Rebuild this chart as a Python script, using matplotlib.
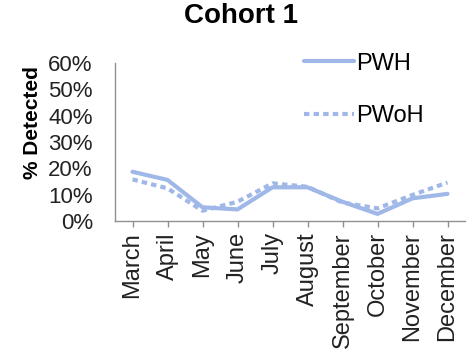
import numpy as np
import matplotlib.pyplot as plt
from matplotlib.ticker import PercentFormatter

plt.rcParams['font.family'] = ['Liberation Sans', 'DejaVu Sans']

# Monthly detection rates (%)
months = ['March', 'April', 'May', 'June', 'July', 'August',
          'September', 'October', 'November', 'December']
pwh = [18.7, 15.6, 5.2, 4.4, 12.8, 12.8, 7.3, 2.7, 8.6, 10.3]
pwoh = [15.8, 12.4, 3.9, 7.3, 14.3, 13.0, 7.0, 4.8, 9.9, 14.6]

color = '#a0b8e8'

fig = plt.figure(figsize=(4.67, 3.57), dpi=100)
ax = fig.add_axes([115/467, 1 - 221/357, 350/467, 158/357])

x = np.arange(len(months))
ax.plot(x, pwh, color=color, lw=3, solid_capstyle='round',
        solid_joinstyle='round', label='PWH')
ax.plot(x, pwoh, color=color, lw=3, linestyle=(0, (1.3, 1.0)),
        dash_capstyle='butt', label='PWoH')

ax.set_xlim(-0.5, len(months) - 0.5)
ax.set_ylim(0, 60)
ax.set_yticks(range(0, 61, 10))
ax.yaxis.set_major_formatter(PercentFormatter(decimals=0))
ax.set_xticks(x)
ax.set_xticklabels(months, rotation=90)
ax.tick_params(axis='y', length=0, pad=16, labelsize=16, labelcolor='#222222')
ax.tick_params(axis='x', length=4, width=1, color='#909090', direction='out',
               pad=4, labelsize=17, labelcolor='#222222')

for side in ['top', 'right']:
    ax.spines[side].set_visible(False)
for side in ['left', 'bottom']:
    ax.spines[side].set_color('#909090')
    ax.spines[side].set_linewidth(1)

ax.set_ylabel('% Detected', fontsize=15, fontweight='bold')
ax.yaxis.set_label_coords(-0.21, 0.62)
ax.set_title('Cohort 1', fontsize=20, fontweight='bold', pad=29, x=0.36)

leg = ax.legend(loc='upper right', bbox_to_anchor=(0.91, 1.125), frameon=False,
                fontsize=17, handlelength=2.1, handletextpad=0.1,
                labelspacing=1.3, borderaxespad=0)

fig.savefig('out.png', dpi=100)
